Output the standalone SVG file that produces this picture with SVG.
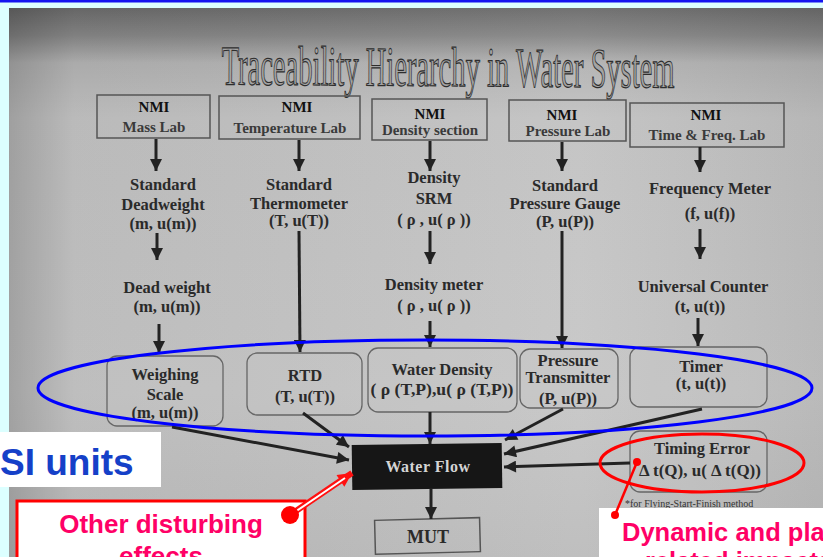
<svg xmlns="http://www.w3.org/2000/svg" width="823" height="557" viewBox="0 0 823 557">
<defs>
<linearGradient id="photoV" x1="0" y1="8" x2="0" y2="557" gradientUnits="userSpaceOnUse">
<stop offset="0" stop-color="#6a6a6a"/>
<stop offset="0.05" stop-color="#858585"/>
<stop offset="0.1" stop-color="#b2b2b2"/>
<stop offset="0.2" stop-color="#c2c2c2"/>
<stop offset="0.7" stop-color="#c6c6c6"/>
<stop offset="1" stop-color="#bcbcbc"/>
</linearGradient>
<linearGradient id="photoH" x1="9" y1="0" x2="823" y2="0" gradientUnits="userSpaceOnUse">
<stop offset="0" stop-color="#000" stop-opacity="0.18"/>
<stop offset="0.08" stop-color="#000" stop-opacity="0.04"/>
<stop offset="0.7" stop-color="#fff" stop-opacity="0.05"/>
<stop offset="1" stop-color="#000" stop-opacity="0.06"/>
</linearGradient>
<marker id="ah" viewBox="0 0 10 10" refX="10" refY="5" markerWidth="13" markerHeight="12" markerUnits="userSpaceOnUse" orient="auto">
<path d="M0,0 L10,5 L0,10 z" fill="#222"/>
</marker>
<marker id="rah" viewBox="0 0 10 10" refX="10" refY="5" markerWidth="16" markerHeight="14" markerUnits="userSpaceOnUse" orient="auto">
<path d="M0,0 L10,5 L0,10 z" fill="#ff1010"/>
</marker>
<style>
.t{font-family:"Liberation Serif","Times New Roman",serif;font-weight:bold;fill:#2a2a2a;text-anchor:middle}
.nmi{font-size:15px;fill:#111}
.lab{font-size:15px;fill:#3a3a3a}
.m{font-size:16.5px}
.box{fill:none;stroke:#555;stroke-width:1.5}
.rbox{fill:#c8c8c8;fill-opacity:0.3;stroke:#666;stroke-width:1.3}
.c{stroke:#222;stroke-width:3;fill:none;marker-end:url(#ah)}
.hl{font-family:"Liberation Sans",Arial,sans-serif;font-weight:bold}
</style>
</defs>
<rect x="0" y="0" width="823" height="557" fill="#dcffff"/>
<rect x="0" y="0" width="823" height="2.5" fill="#1414f0"/>
<rect x="9" y="8" width="814" height="549" fill="url(#photoV)"/>
<rect x="9" y="8" width="814" height="549" fill="url(#photoH)"/>

<text x="448" y="86" transform="rotate(0.4 448 86)" font-family="'Liberation Serif','Times New Roman',serif" font-size="56" textLength="453" lengthAdjust="spacingAndGlyphs" text-anchor="middle" fill="#a4a4a4" stroke="#2e2e2e" stroke-width="1.2">Traceability Hierarchy in Water System</text>

<g id="nmi-mass"><rect class="box" x="97" y="95" width="113" height="43"/><text class="t nmi" x="154" y="112">NMI</text><text class="t lab" x="154" y="132">Mass Lab</text></g>
<g id="nmi-temp"><rect class="box" x="219" y="96" width="141" height="43"/><text class="t nmi" x="297" y="112">NMI</text><text class="t lab" x="290" y="133">Temperature Lab</text></g>
<g id="nmi-density"><rect class="box" x="372" y="99" width="115" height="41"/><text class="t nmi" x="430" y="119">NMI</text><text class="t lab" x="430" y="135">Density section</text></g>
<g id="nmi-pressure"><rect class="box" x="509" y="100" width="117" height="41"/><text class="t nmi" x="562" y="120">NMI</text><text class="t lab" x="568" y="136">Pressure Lab</text></g>
<g id="nmi-time"><rect class="box" x="630" y="103" width="154" height="44"/><text class="t nmi" x="706" y="120">NMI</text><text class="t lab" x="707" y="140">Time &amp; Freq. Lab</text></g>

<g id="std-deadweight"><text class="t m" x="163" y="190">Standard</text><text class="t m" x="163" y="210">Deadweight</text><text class="t m" x="163" y="229">(m, u(m))</text></g>
<g id="std-thermometer"><text class="t m" x="299" y="190">Standard</text><text class="t m" x="299" y="209">Thermometer</text><text class="t m" x="299" y="226">(T, u(T))</text></g>
<g id="density-srm"><text class="t m" x="434" y="183">Density</text><text class="t m" x="434" y="204">SRM</text><text class="t m" x="434" y="225">( ρ , u( ρ ))</text></g>
<g id="std-pressure"><text class="t m" x="565" y="191">Standard</text><text class="t m" x="565" y="209">Pressure Gauge</text><text class="t m" x="565" y="227">(P, u(P))</text></g>
<g id="freq-meter"><text class="t m" x="710" y="194">Frequency Meter</text><text class="t m" x="710" y="219">(f, u(f))</text></g>

<g id="dead-weight"><text class="t m" x="167" y="293">Dead weight</text><text class="t m" x="167" y="312">(m, u(m))</text></g>
<g id="density-meter"><text class="t m" x="434" y="290">Density meter</text><text class="t m" x="434" y="311">( ρ , u( ρ ))</text></g>
<g id="universal-counter"><text class="t m" x="703" y="292">Universal Counter</text><text class="t m" x="700" y="312">(t, u(t))</text></g>

<g id="weighing-scale"><rect class="rbox" x="107" y="356" width="116" height="70" rx="10"/><text class="t m" x="165" y="380">Weighing</text><text class="t m" x="165" y="400">Scale</text><text class="t m" x="165" y="418">(m, u(m))</text></g>
<g id="rtd"><rect class="rbox" x="247" y="353" width="115" height="62" rx="10"/><text class="t m" x="305" y="381">RTD</text><text class="t m" x="305" y="402">(T, u(T))</text></g>
<g id="water-density"><rect class="rbox" x="368" y="348" width="149" height="64" rx="10"/><text class="t m" x="442" y="375">Water Density</text><text class="t m" x="442" y="395" textLength="143" lengthAdjust="spacingAndGlyphs">( ρ (T,P),u( ρ (T,P))</text></g>
<g id="pressure-transmitter"><rect class="rbox" x="520" y="349" width="98" height="59" rx="10"/><text class="t m" x="568" y="366">Pressure</text><text class="t m" x="568" y="383">Transmitter</text><text class="t m" x="568" y="404">(P, u(P))</text></g>
<g id="timer"><rect class="rbox" x="630" y="347" width="137" height="60" rx="10"/><text class="t m" x="701" y="372">Timer</text><text class="t m" x="701" y="389">(t, u(t))</text></g>

<g id="timing-error"><rect class="rbox" x="630" y="431" width="137" height="61" rx="10"/><text class="t m" x="702" y="454">Timing Error</text><text class="t" x="700" y="476" style="font-size:17px">Δ t(Q), u( Δ t(Q))</text></g>
<text x="625" y="507" font-family="'Liberation Serif','Times New Roman',serif" font-size="10" fill="#333">*for Flying-Start-Finish method</text>

<g id="water-flow"><rect x="352" y="444" width="150" height="45" fill="#161616" transform="rotate(-0.8 427 466)"/><text class="t" x="428" y="472" style="font-size:16px;fill:#d4d4d4;letter-spacing:0.5px">Water Flow</text></g>
<g id="mut"><rect class="box" x="375" y="519" width="105" height="34" transform="rotate(-1.5 427 536)"/><text class="t" x="428" y="543" style="font-size:18px">MUT</text></g>

<g id="connectors">
<line class="c" x1="156" y1="139" x2="156" y2="171"/>
<line class="c" x1="299" y1="140" x2="299" y2="171"/>
<line class="c" x1="430" y1="141" x2="430" y2="171"/>
<line class="c" x1="562" y1="142" x2="562" y2="171"/>
<line class="c" x1="700" y1="147" x2="700" y2="172"/>
<line class="c" x1="157" y1="233" x2="157" y2="260"/>
<line class="c" x1="299" y1="231" x2="300" y2="352"/>
<line class="c" x1="430" y1="231" x2="430" y2="264"/>
<line class="c" x1="562" y1="231" x2="562" y2="348"/>
<line class="c" x1="700" y1="229" x2="700" y2="259"/>
<line class="c" x1="159" y1="324" x2="159" y2="353"/>
<line class="c" x1="430" y1="321" x2="430" y2="347"/>
<line class="c" x1="698" y1="318" x2="698" y2="346"/>
<line class="c" x1="172" y1="427" x2="349" y2="460"/>
<line class="c" x1="303" y1="413" x2="349" y2="447"/>
<line class="c" x1="430" y1="412" x2="430" y2="444"/>
<line class="c" x1="563" y1="409" x2="505" y2="440"/>
<line class="c" x1="702" y1="409" x2="504" y2="454"/>
<line class="c" x1="630" y1="463" x2="504" y2="467"/>
<line class="c" x1="431" y1="489" x2="431" y2="519"/>
</g>

<ellipse cx="425" cy="388" rx="387" ry="48" fill="none" stroke="#0000ff" stroke-width="3"/>
<ellipse cx="702" cy="463" rx="102" ry="29" fill="none" stroke="#ff0000" stroke-width="3"/>

<g id="si-units"><rect x="0" y="432" width="161" height="55" fill="#ffffff"/><text class="hl" x="0" y="475" font-size="37" fill="#1540c8">SI units</text></g>

<g id="other-disturbing"><rect x="17" y="501" width="288" height="70" fill="#ffffff" stroke="#ff0000" stroke-width="3"/><text class="hl" x="161" y="533" font-size="26" fill="#ff0066" text-anchor="middle">Other disturbing</text><text class="hl" x="161" y="565" font-size="26" fill="#ff0066" text-anchor="middle">effects</text></g>
<g id="disturb-arrow">
<line x1="290" y1="515" x2="352" y2="473" stroke="#ff1010" stroke-width="6" marker-end="url(#rah)"/>
<line x1="292" y1="514" x2="345" y2="478" stroke="#ffffff" stroke-width="2"/>
<circle cx="290" cy="515" r="9" fill="#ff0000"/>
</g>

<g id="dynamic"><rect x="599" y="508" width="230" height="60" fill="#ffffff"/><text class="hl" x="622" y="541" font-size="25.5" fill="#ff0066">Dynamic and platform</text><text class="hl" x="645" y="570" font-size="25.5" fill="#ff0066">related impacts</text></g>
<g id="dynamic-pointer">
<line x1="615" y1="515" x2="637" y2="462" stroke="#ff0000" stroke-width="2.5"/>
<circle cx="615" cy="515" r="4" fill="#ff0000"/>
<circle cx="637" cy="462" r="4" fill="#ff0000"/>
</g>
</svg>
